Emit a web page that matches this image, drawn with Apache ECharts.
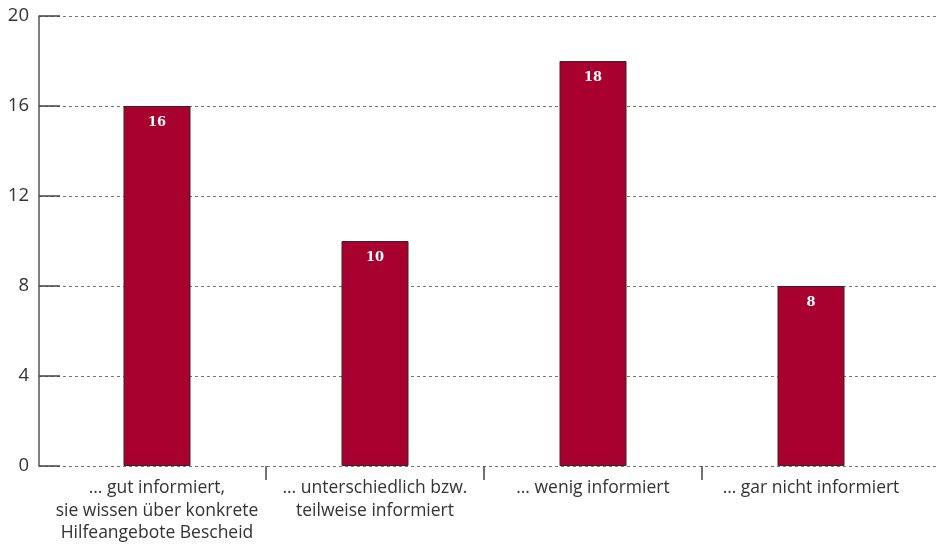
<!DOCTYPE html>
<html><head><meta charset="utf-8">
<script src="https://cdn.jsdelivr.net/npm/echarts@6/dist/echarts.min.js"></script>
<style>html,body{margin:0;padding:0;background:#fff}#c{width:939px;height:545px}</style>
</head><body><div id="c"></div>
<script>
const categories = ["… gut informiert,\nsie wissen über konkrete\nHilfeangebote Bescheid", "… unterschiedlich bzw.\nteilweise informiert", "… wenig informiert", "… gar nicht informiert"];
const values = [16, 10, 18, 8];
const yTicks = [0, 4, 8, 12, 16, 20];

const chart = echarts.init(document.getElementById('c'));
chart.setOption({
  animation: false,
  grid: [
    {left: 39, right: 2, top: 16, bottom: 79},
    {left: 48, right: 19, top: 16, bottom: 79}
  ],
  xAxis: [
    {gridIndex: 0, type: 'value', min: 0, max: 1, show: false},
    {gridIndex: 1, type: 'category', data: categories, position: 'bottom',
      axisLine: {show: false}, axisTick: {show: false},
      axisLabel: {color: '#333', fontFamily: 'Open Sans', fontSize: 17.5, lineHeight: 22.5, margin: 11, interval: 0}},
    {gridIndex: 1, type: 'value', min: 0, max: categories.length, position: 'bottom',
      axisLine: {show: false}, splitLine: {show: false}, axisLabel: {show: false},
      axisTick: {show: true, customValues: [1, 2, 3], length: 14, lineStyle: {color: '#444', width: 1.5}}}
  ],
  yAxis: [
    {gridIndex: 0, type: 'value', min: 0, max: 20, interval: 4,
      axisLine: {show: true, lineStyle: {color: '#555', width: 1.5}},
      axisTick: {show: true, inside: true, length: 21, lineStyle: {color: '#444', width: 1.5}},
      axisLabel: {color: '#333', fontFamily: 'Open Sans', fontSize: 18.5, margin: 10,
        formatter: v => yTicks.includes(v) ? String(v) : ''},
      splitLine: {show: true, lineStyle: {color: '#777', type: [3, 3], width: 1}}},
    {gridIndex: 1, type: 'value', min: 0, max: 20, interval: 4, show: false}
  ],
  series: [{
    type: 'bar', xAxisIndex: 1, yAxisIndex: 1, data: values, barWidth: 67,
    itemStyle: {color: '#a8002f', borderColor: '#3a2328', borderWidth: 1},
    label: {show: true, position: 'insideTop', distance: 10, color: '#fff',
      fontFamily: 'DejaVu Serif', fontWeight: 'bold', fontSize: 13}
  }]
});
</script></body></html>
